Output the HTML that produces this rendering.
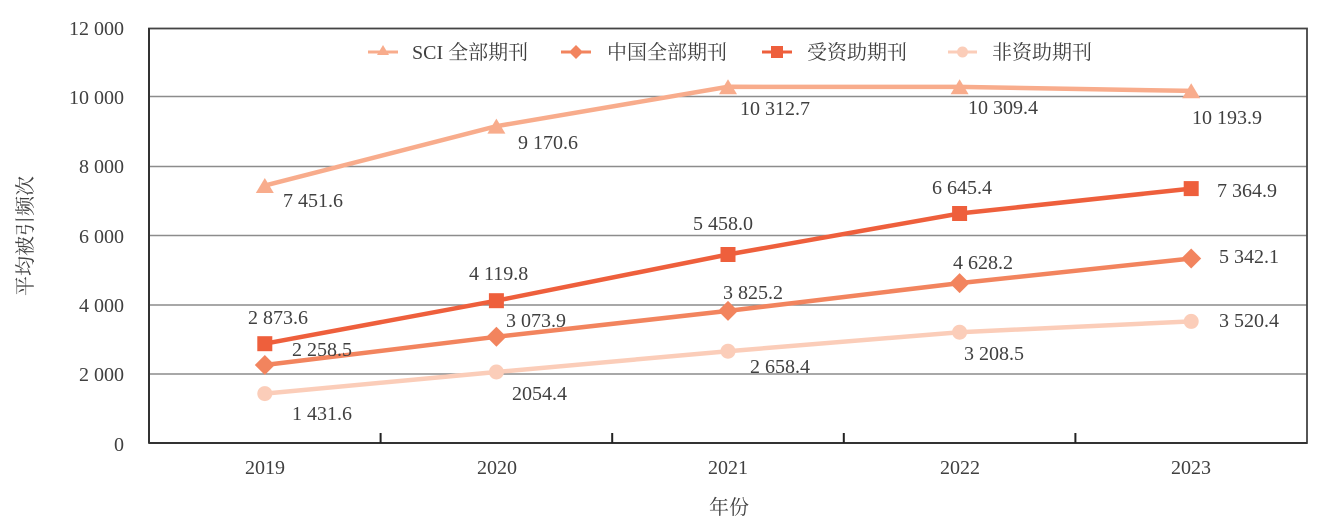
<!DOCTYPE html>
<html>
<head>
<meta charset="utf-8">
<style>
html,body{margin:0;padding:0;background:#fff;}
svg{display:block;}
text{font-family:"Liberation Serif","Noto Serif CJK SC",serif;fill:#404040;font-size:20px;}
</style>
</head>
<body>
<svg width="1321" height="529" viewBox="0 0 1321 529" xmlns="http://www.w3.org/2000/svg">
  <!-- gridlines -->
  <g stroke="#8c8c8c" stroke-width="1.6">
    <line x1="149" y1="96.5" x2="1307" y2="96.5"/>
    <line x1="149" y1="166.5" x2="1307" y2="166.5"/>
    <line x1="149" y1="235.5" x2="1307" y2="235.5"/>
    <line x1="149" y1="305" x2="1307" y2="305"/>
    <line x1="149" y1="374" x2="1307" y2="374"/>
  </g>
  <!-- plot border -->
  <rect x="149" y="28.5" width="1158" height="414.5" fill="none" stroke="#444" stroke-width="1.8"/>
  <line x1="149" y1="443" x2="1307" y2="443" stroke="#333" stroke-width="2"/>
  <line x1="149" y1="28" x2="149" y2="443" stroke="#333" stroke-width="2"/>
  <!-- x ticks -->
  <g stroke="#222" stroke-width="2">
    <line x1="380.6" y1="433" x2="380.6" y2="443"/>
    <line x1="612.2" y1="433" x2="612.2" y2="443"/>
    <line x1="843.8" y1="433" x2="843.8" y2="443"/>
    <line x1="1075.4" y1="433" x2="1075.4" y2="443"/>
  </g>
  <!-- y labels -->
  <g text-anchor="end">
    <text x="124" y="35">12 000</text>
    <text x="124" y="104">10 000</text>
    <text x="124" y="173">8 000</text>
    <text x="124" y="243">6 000</text>
    <text x="124" y="312">4 000</text>
    <text x="124" y="381">2 000</text>
    <text x="124" y="451">0</text>
  </g>
  <!-- x labels -->
  <g text-anchor="middle">
    <text x="265" y="474">2019</text>
    <text x="497" y="474">2020</text>
    <text x="728" y="474">2021</text>
    <text x="960" y="474">2022</text>
    <text x="1191" y="474">2023</text>
    <text x="729" y="514" font-size="19">年份</text>
  </g>
  <text transform="translate(32,236) rotate(-90)" text-anchor="middle" font-size="19">平均被引频次</text>

  <!-- Non-funded series -->
  <polyline points="264.8,393.6 496.4,372 728,351.2 959.6,332.2 1191.2,321.4" fill="none" stroke="#fbcdb9" stroke-width="4.5"/>
  <g fill="#fbcdb9">
    <circle cx="264.8" cy="393.6" r="7.5"/><circle cx="496.4" cy="372" r="7.5"/><circle cx="728" cy="351.2" r="7.5"/><circle cx="959.6" cy="332.2" r="7.5"/><circle cx="1191.2" cy="321.4" r="7.5"/>
  </g>
  <!-- China series -->
  <polyline points="264.8,365 496.4,336.8 728,310.9 959.6,283.1 1191.2,258.5" fill="none" stroke="#f2845e" stroke-width="4.5"/>
  <g fill="#f2845e">
    <polygon points="264.8,355 274.8,365 264.8,375 254.8,365"/>
    <polygon points="496.4,326.8 506.4,336.8 496.4,346.8 486.4,336.8"/>
    <polygon points="728,300.9 738,310.9 728,320.9 718,310.9"/>
    <polygon points="959.6,273.1 969.6,283.1 959.6,293.1 949.6,283.1"/>
    <polygon points="1191.2,248.5 1201.2,258.5 1191.2,268.5 1181.2,258.5"/>
  </g>
  <!-- Funded series -->
  <polyline points="264.8,343.7 496.4,300.7 728,254.5 959.6,213.5 1191.2,188.6" fill="none" stroke="#ee5f3c" stroke-width="4.5"/>
  <g fill="#ee5f3c">
    <rect x="257.3" y="336.2" width="15" height="15"/>
    <rect x="488.9" y="293.2" width="15" height="15"/>
    <rect x="720.5" y="247" width="15" height="15"/>
    <rect x="952.1" y="206" width="15" height="15"/>
    <rect x="1183.7" y="181.1" width="15" height="15"/>
  </g>
  <!-- SCI series -->
  <polyline points="264.8,185.6 496.4,126.2 728,86.8 959.6,86.9 1191.2,90.9" fill="none" stroke="#f8ac8c" stroke-width="4.5"/>
  <g fill="#f8ac8c">
    <polygon points="264.8,178 273.8,193 255.8,193"/>
    <polygon points="496.4,118.6 505.4,133.6 487.4,133.6"/>
    <polygon points="728,79.2 737,94.2 719,94.2"/>
    <polygon points="959.6,79.3 968.6,94.3 950.6,94.3"/>
    <polygon points="1191.2,83.3 1200.2,98.3 1182.2,98.3"/>
  </g>

  <!-- data labels -->
  <g>
    <text x="283" y="207">7 451.6</text>
    <text x="518" y="149">9 170.6</text>
    <text x="740" y="115">10 312.7</text>
    <text x="968" y="114">10 309.4</text>
    <text x="1192" y="124">10 193.9</text>

    <text x="248" y="324">2 873.6</text>
    <text x="469" y="280">4 119.8</text>
    <text x="693" y="230">5 458.0</text>
    <text x="932" y="194">6 645.4</text>
    <text x="1217" y="197">7 364.9</text>

    <text x="292" y="356">2 258.5</text>
    <text x="506" y="327">3 073.9</text>
    <text x="723" y="299">3 825.2</text>
    <text x="953" y="269">4 628.2</text>
    <text x="1219" y="263">5 342.1</text>

    <text x="292" y="420">1 431.6</text>
    <text x="512" y="400">2054.4</text>
    <text x="750" y="373">2 658.4</text>
    <text x="964" y="360">3 208.5</text>
    <text x="1219" y="327">3 520.4</text>
  </g>

  <!-- legend -->
  <g>
    <line x1="368" y1="52" x2="398" y2="52" stroke="#f8ac8c" stroke-width="3"/>
    <polygon points="383,45 389,55 377,55" fill="#f8ac8c"/>
    <text x="412" y="59" font-size="19.5">SCI 全部期刊</text>

    <line x1="561" y1="52" x2="591" y2="52" stroke="#f2845e" stroke-width="3"/>
    <polygon points="576,45 583,52 576,59 569,52" fill="#f2845e"/>
    <text x="607" y="59" font-size="19.5">中国全部期刊</text>

    <line x1="762" y1="52" x2="792" y2="52" stroke="#ee5f3c" stroke-width="3"/>
    <rect x="771" y="46" width="12" height="12" fill="#ee5f3c"/>
    <text x="807" y="59" font-size="19.5">受资助期刊</text>

    <line x1="948" y1="52" x2="977" y2="52" stroke="#fbcdb9" stroke-width="3"/>
    <circle cx="962.5" cy="52" r="5.5" fill="#fbcdb9"/>
    <text x="992" y="59" font-size="19.5">非资助期刊</text>
  </g>
</svg>
</body>
</html>
